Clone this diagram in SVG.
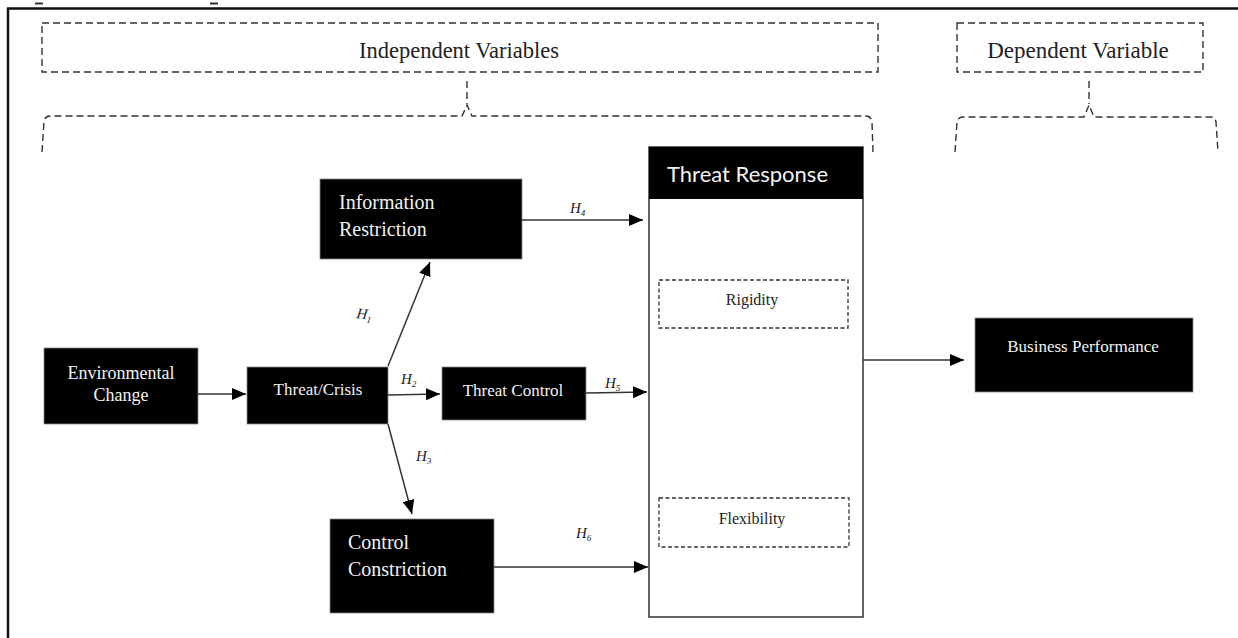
<svg xmlns="http://www.w3.org/2000/svg" width="1238" height="638" viewBox="0 0 1238 638">
<style>
.serif{font-family:"Liberation Serif","Times New Roman",serif;}
.dash{fill:none;stroke:#333;stroke-width:1.4;stroke-dasharray:7 4;}
.sdash{fill:none;stroke:#333;stroke-width:1.3;stroke-dasharray:4 2.5;}
.blk{fill:#000;stroke:#888;stroke-width:0.8;}
.wt{fill:#f2f2f2;}
.dk{fill:#222;}
.edge{stroke:#333;stroke-width:1.5;fill:none;}
.hl{font-family:"Liberation Serif","Times New Roman",serif;font-style:italic;font-size:15px;fill:#222;}
.sub{font-size:9px;}
</style>
<defs>
<marker id="ah" viewBox="0 0 14 12" refX="14" refY="6" markerWidth="14" markerHeight="12" markerUnits="userSpaceOnUse" orient="auto">
<path d="M0,0 L14,6 L0,12 z" fill="#000"/>
</marker>
</defs>
<rect x="0" y="0" width="1238" height="638" fill="#fff"/>
<g id="frame">
<rect x="35" y="2.5" width="8" height="2" fill="#333"/>
<rect x="210" y="2.5" width="8" height="2" fill="#333"/>
<path d="M7,8.5 H1238 M8,8 V638" stroke="#111" stroke-width="2.5" fill="none"/>
</g>
<g id="independent-variables">
<rect class="dash" x="42" y="23" width="836" height="49"/>
<text class="serif dk" x="459" y="58" font-size="22.5" text-anchor="middle">Independent Variables</text>
<path class="dash" d="M467,81 V104"/>
<path class="dash" d="M42,152 L44,121 Q45,116 50,116 H462 L467,105 L472,116 H866 Q871,116 872,122 L873,152"/>
</g>
<g id="dependent-variable">
<rect class="dash" x="957" y="23" width="246" height="49"/>
<text class="serif dk" x="1078" y="58" font-size="23" text-anchor="middle">Dependent Variable</text>
<path class="dash" d="M1089,81 V104"/>
<path class="dash" d="M955,152 L957,122 Q958,117 963,117 H1084 L1089,105 L1094,117 H1211 Q1215,117 1216,122 L1218,152"/>
</g>
<g id="environmental-change">
<rect class="blk" x="44" y="348" width="154" height="76"/>
<text class="serif wt" font-size="18" text-anchor="middle"><tspan x="121" y="379">Environmental</tspan><tspan x="121" y="401">Change</tspan></text>
</g>
<g id="threat-crisis">
<rect class="blk" x="247" y="367" width="141" height="57"/>
<text class="serif wt" x="318" y="395" font-size="17" text-anchor="middle">Threat/Crisis</text>
</g>
<g id="information-restriction">
<rect class="blk" x="320" y="179" width="202" height="80"/>
<text class="serif wt" font-size="20"><tspan x="339" y="209">Information</tspan><tspan x="339" y="236">Restriction</tspan></text>
</g>
<g id="threat-control">
<rect class="blk" x="442" y="367" width="144" height="53"/>
<text class="serif wt" x="513" y="396" font-size="17" text-anchor="middle">Threat Control</text>
</g>
<g id="control-constriction">
<rect class="blk" x="330" y="519" width="164" height="94"/>
<text class="serif wt" font-size="20"><tspan x="348" y="549">Control</tspan><tspan x="348" y="576">Constriction</tspan></text>
</g>
<g id="threat-response">
<rect x="649" y="147" width="214" height="470" fill="#fff" stroke="#333" stroke-width="1.5"/>
<rect x="649" y="147" width="214" height="52" fill="#000"/>
<text x="667" y="182" font-family="Lato, 'Open Sans', sans-serif" font-size="22" class="wt">Threat Response</text>
</g>
<g id="rigidity">
<rect class="sdash" x="659" y="280" width="189" height="48"/>
<text class="serif dk" x="752" y="305" font-size="16" text-anchor="middle">Rigidity</text>
</g>
<g id="flexibility">
<rect class="sdash" x="659" y="498" width="190" height="49"/>
<text class="serif dk" x="752" y="524" font-size="16" text-anchor="middle">Flexibility</text>
</g>
<g id="business-performance">
<rect class="blk" x="975" y="318" width="218" height="74"/>
<text class="serif wt" x="1083" y="352" font-size="17" text-anchor="middle">Business Performance</text>
</g>
<g id="connectors">
<line class="edge" x1="198" y1="394" x2="246" y2="394" marker-end="url(#ah)"/>
<line class="edge" x1="388" y1="366" x2="430" y2="262" marker-end="url(#ah)"/>
<line class="edge" x1="388" y1="395" x2="440" y2="394" marker-end="url(#ah)"/>
<line class="edge" x1="388" y1="424" x2="412" y2="514" marker-end="url(#ah)"/>
<line class="edge" x1="522" y1="220" x2="643" y2="220" marker-end="url(#ah)"/>
<line class="edge" x1="586" y1="393" x2="647" y2="392" marker-end="url(#ah)"/>
<line class="edge" x1="494" y1="567" x2="648" y2="567" marker-end="url(#ah)"/>
<line class="edge" x1="863" y1="360" x2="964" y2="360" marker-end="url(#ah)"/>
<text class="hl" transform="translate(356,318) rotate(8)">H<tspan class="sub" dy="3">1</tspan></text>
<text class="hl" x="401" y="384">H<tspan class="sub" dy="3">2</tspan></text>
<text class="hl" x="416" y="461">H<tspan class="sub" dy="3">3</tspan></text>
<text class="hl" x="570" y="213">H<tspan class="sub" dy="3">4</tspan></text>
<text class="hl" x="605" y="388">H<tspan class="sub" dy="3">5</tspan></text>
<text class="hl" x="576" y="538">H<tspan class="sub" dy="3">6</tspan></text>
</g>
</svg>
